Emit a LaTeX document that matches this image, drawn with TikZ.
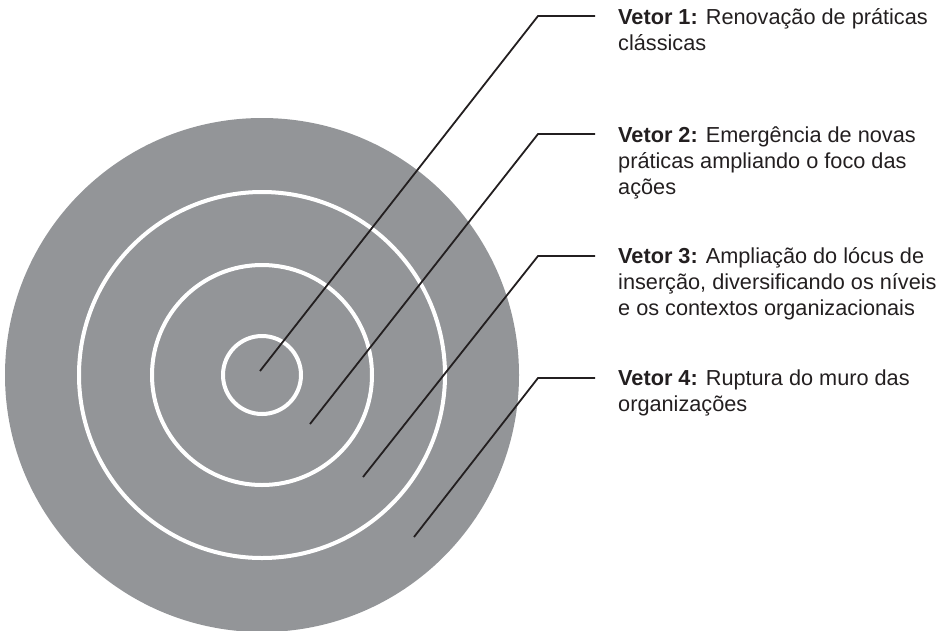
\documentclass[tikz,border=0pt]{standalone}
\usepackage{fontspec}
\setmainfont{Liberation Sans}
\definecolor{ringgray}{HTML}{939598}
\definecolor{ink}{HTML}{231F20}
\tikzset{
  ring/.style={draw=white, line width=4pt},
  leader/.style={draw=ink, line width=1.8pt, line join=miter},
  label/.style={anchor=base west, inner sep=0pt, align=left, text=ink,
    font=\fontsize{21.7}{26}\selectfont}
}
\begin{document}
\begin{tikzpicture}[x=1pt,y=-1pt]
\useasboundingbox (0,0) rectangle (947,630);
\coordinate (c) at (262,375);
\fill[ringgray] (c) circle[radius=257pt];
\draw[ring] (c) circle[radius=39pt];
\draw[ring] (c) circle[radius=110pt];
\draw[ring] (c) circle[radius=183pt];
% start points
\coordinate (s1) at (260,371);
\coordinate (s2) at (310,424);
\coordinate (s3) at (363,477);
\coordinate (s4) at (414,537);
% elbows
\coordinate (e1) at (538,16);
\coordinate (e2) at (538,134);
\coordinate (e3) at (538,256);
\coordinate (e4) at (538,378);
% ends
\coordinate (f1) at (595,16);
\coordinate (f2) at (595,134);
\coordinate (f3) at (595,256);
\coordinate (f4) at (595,378);
\draw[leader] (s1) -- (e1) -- (f1);
\draw[leader] (s2) -- (e2) -- (f2);
\draw[leader] (s3) -- (e3) -- (f3);
\draw[leader] (s4) -- (e4) -- (f4);
% anchor base west = baseline of the last line
\node[label] (t1) at (618,50) {\textbf{Vetor 1:} Renovação de práticas\\clássicas};
\node[label] (t2) at (618,194) {\textbf{Vetor 2:} Emergência de novas\\práticas ampliando o foco das\\ações};
\node[label] (t3) at (618,315) {\textbf{Vetor 3:} Ampliação do lócus de\\inserção, diversificando os níveis\\e os contextos organizacionais};
\node[label] (t4) at (618,411) {\textbf{Vetor 4:} Ruptura do muro das\\organizações};
\end{tikzpicture}
\end{document}
